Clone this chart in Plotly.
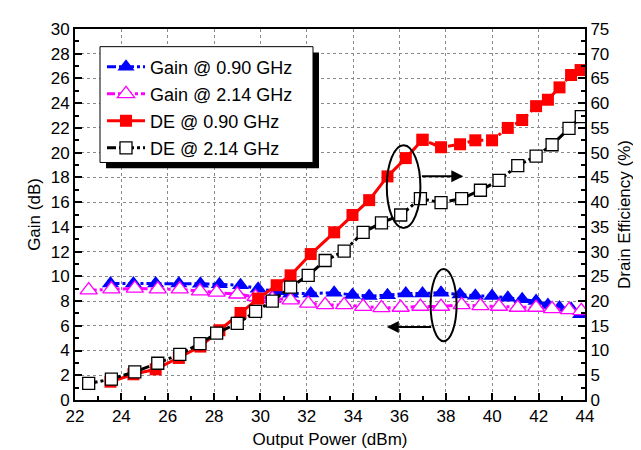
import plotly.graph_objects as go

# ---- data ----
pout_090 = [23.53, 24.52, 25.48, 26.48, 27.41, 28.23, 29.14, 29.9, 30.7, 31.3, 32.17, 33.18, 33.97,
            34.69, 35.48, 36.27, 36.99, 37.79, 38.61, 39.27, 39.99, 40.67, 41.29, 41.89, 42.40,
            42.90, 43.40, 43.81]
gain_090 = [9.42, 9.42, 9.42, 9.42, 9.4, 9.35, 9.28, 9.0, 8.8, 8.6, 8.62, 8.67, 8.5,
            8.4, 8.48, 8.62, 8.62, 8.67, 8.54, 8.43, 8.40, 8.27, 8.14, 8.0, 7.69,
            7.48, 7.37, 6.94]
de_090 = [3.7, 5.2, 6.2, 8.5, 10.8, 14.1, 17.6, 20.5, 23.2, 25.2, 29.5, 33.9, 37.4,
          40.4, 45.2, 48.9, 52.6, 51.1, 51.7, 52.5, 52.5, 55.0, 56.6, 59.4, 60.7,
          63.2, 65.7, 66.7]

pout_214 = [22.59, 23.57, 24.58, 25.57, 26.52, 27.39, 28.11, 29.0, 29.79, 30.51, 31.30, 32.06,
            32.79, 33.61, 34.43, 35.22, 36.05, 36.90, 37.79, 38.68, 39.49, 40.29, 41.10,
            41.89, 42.58, 43.31, 43.84]
gain_214 = [8.88, 8.96, 9.02, 8.96, 8.96, 8.8, 8.7, 8.55, 8.35, 8.2, 8.08, 7.82,
            7.69, 7.69, 7.55, 7.45, 7.48, 7.56, 7.56, 7.69, 7.61, 7.56, 7.48,
            7.48, 7.37, 7.29, 7.21]
de_214 = [3.35, 4.23, 5.69, 7.43, 9.22, 11.4, 13.5, 15.5, 17.9, 20.0, 22.8, 25.2,
          28.2, 30.1, 33.9, 35.8, 37.4, 40.7, 39.9, 40.7, 42.4, 44.4, 47.4,
          49.3, 51.6, 54.9, 57.3]

names = ["Gain @ 0.90 GHz", "Gain @ 2.14 GHz", "DE @ 0.90 GHz", "DE @ 2.14 GHz"]
x_ticks = list(range(22, 45, 2))
red_split = 16  # index where the red curve changes from solid to dash-dot

FONT = "Liberation Sans, Arial, Helvetica, sans-serif"

# plot-area pixel geometry (for placing the legend frame)
L, R, T, B = 67, 577, 16, 394
W, H = 641, 450


def px(xp):
    return (xp - L) / (R - L)


def py(yp):
    return (B - yp) / (B - T)


red_marker = dict(symbol="square", size=12, color="#FF0000", line=dict(width=0))

fig = go.Figure()

fig.add_trace(go.Scatter(
    x=pout_090, y=gain_090, name=names[0], legendgroup="g1", mode="lines+markers",
    line=dict(color="#0000FF", width=3, dash="9px,3px,3px,3px"),
    marker=dict(symbol="triangle-up", size=15, color="#0000FF", line=dict(width=0)),
))
fig.add_trace(go.Scatter(
    x=pout_214, y=gain_214, name=names[1], legendgroup="g2", mode="lines+markers",
    line=dict(color="#FF00FF", width=3, dash="8px,3px,3px,3px"),
    marker=dict(symbol="triangle-up", size=15, color="white", line=dict(width=1.3, color="#FF00FF")),
))
fig.add_trace(go.Scatter(
    x=pout_090[red_split:], y=de_090[red_split:], yaxis="y2", showlegend=False,
    legendgroup="g3", mode="lines+markers",
    line=dict(color="#FF0000", width=3, dash="3px,4px,9px,4px"),
    marker=red_marker,
))
fig.add_trace(go.Scatter(
    x=pout_090[:red_split + 1], y=de_090[:red_split + 1], name=names[2], legendgroup="g3",
    yaxis="y2", mode="lines+markers",
    line=dict(color="#FF0000", width=3),
    marker=red_marker,
))
fig.add_trace(go.Scatter(
    x=pout_214, y=de_214, name=names[3], legendgroup="g4", yaxis="y2",
    mode="lines+markers",
    line=dict(color="black", width=3, dash="9px,3px,3px,3px"),
    marker=dict(symbol="square", size=12, color="white", line=dict(width=1.3, color="black")),
))

axis_common = dict(
    showline=True, linecolor="black", linewidth=2,
    ticks="inside", ticklen=7, tickwidth=1.5, tickcolor="black",
    tickfont=dict(family=FONT, size=17, color="black"),
    zeroline=False,
)

fig.update_layout(
    width=W, height=H,
    margin=dict(l=L, r=W - R, t=T, b=H - B),
    plot_bgcolor="white", paper_bgcolor="white",
    font=dict(family=FONT, size=17, color="black"),
    xaxis=dict(
        range=[22, 44], tickmode="array", tickvals=x_ticks,
        showgrid=True, gridcolor="#8a8a8a", gridwidth=1, griddash="3px,3px",
        mirror=True,
        minor=dict(dtick=1, ticks="inside", ticklen=4, tickcolor="black", tickwidth=1.5, showgrid=False),
        title=dict(text="Output Power (dBm)", font=dict(family=FONT, size=17), standoff=8),
        **axis_common,
    ),
    yaxis=dict(
        range=[0, 30], tickmode="linear", tick0=0, dtick=2,
        showgrid=True, gridcolor="#8a8a8a", gridwidth=1, griddash="3px,3px",
        minor=dict(dtick=1, ticks="inside", ticklen=4, tickcolor="black", tickwidth=1.5, showgrid=False),
        title=dict(text="Gain (dB)", font=dict(family=FONT, size=17), standoff=6),
        **axis_common,
    ),
    yaxis2=dict(
        range=[0, 75], tickmode="linear", tick0=0, dtick=5,
        overlaying="y", side="right", showgrid=False,
        minor=dict(dtick=2.5, ticks="inside", ticklen=4, tickcolor="black", tickwidth=1.5, showgrid=False),
        title=dict(text="Drain Efficiency (%)", font=dict(family=FONT, size=17), standoff=10),
        **axis_common,
    ),
    legend=dict(
        x=px(94), y=py(36), xanchor="left", yanchor="top",
        bgcolor="rgba(0,0,0,0)", borderwidth=0,
        font=dict(family=FONT, size=18, color="black"),
        itemwidth=38, traceorder="grouped", tracegroupgap=0.6,
    ),
    showlegend=True,
)

# legend frame: shadow + white box
fig.add_shape(type="rect", xref="paper", yref="paper",
              x0=px(98), x1=px(311), y0=py(158), y1=py(40),
              fillcolor="black", line=dict(width=0), layer="above")
fig.add_shape(type="rect", xref="paper", yref="paper",
              x0=px(92), x1=px(305), y0=py(152), y1=py(34),
              fillcolor="white", line=dict(width=1, color="black"), layer="above")

# ellipses and arrows
fig.add_shape(type="circle", xref="x", yref="y", x0=35.45, x1=36.9, y0=13.9, y1=20.6,
              line=dict(color="black", width=2))
fig.add_shape(type="circle", xref="x", yref="y", x0=37.34, x1=38.46, y0=4.75, y1=10.6,
              line=dict(color="black", width=2))
fig.add_annotation(x=38.75, y=18.1, ax=36.9, ay=18.1, xref="x", yref="y", axref="x", ayref="y",
                   text="", showarrow=True, arrowhead=2, arrowsize=1.2, arrowwidth=2, arrowcolor="black")
fig.add_annotation(x=35.45, y=5.9, ax=37.43, ay=5.9, xref="x", yref="y", axref="x", ayref="y",
                   text="", showarrow=True, arrowhead=2, arrowsize=1.2, arrowwidth=2, arrowcolor="black")

fig.write_html("out.html")
